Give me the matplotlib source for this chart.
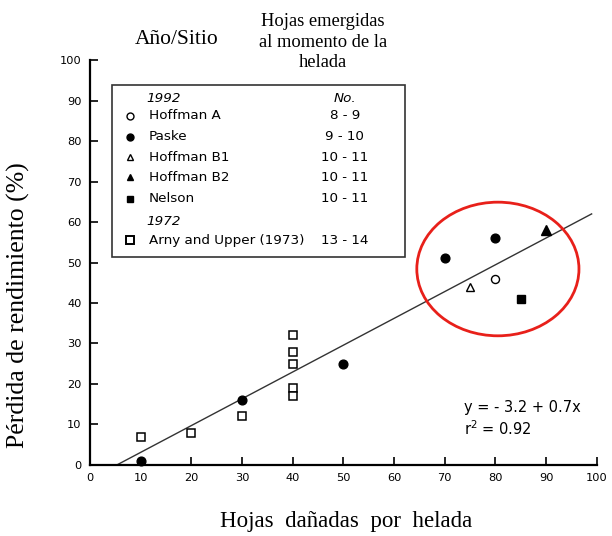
import matplotlib.pyplot as plt
from matplotlib.patches import Ellipse, Rectangle

# data
arny_x = [10, 20, 30, 40, 40, 40, 40, 40]
arny_y = [7, 8, 12, 32, 28, 25, 19, 17]
paske_x = [10, 30, 50, 70, 80]
paske_y = [1, 16, 25, 51, 56]
hoffa_x = [80]
hoffa_y = [46]
hoffb1_x = [75]
hoffb1_y = [44]
hoffb2_x = [90]
hoffb2_y = [58]
nelson_x = [85]
nelson_y = [41]

fit_x = [5.3, 99]
fit_y = [0, 62]

legend_rows = [
    ('o', 'white', 'Hoffman A', '8 - 9'),
    ('o', 'black', 'Paske', '9 - 10'),
    ('^', 'white', 'Hoffman B1', '10 - 11'),
    ('^', 'black', 'Hoffman B2', '10 - 11'),
    ('s', 'black', 'Nelson', '10 - 11'),
]
arny_row = ('s', 'white', 'Arny and Upper (1973)', '13 - 14')

ticks = list(range(0, 101, 10))

SANS = 'DejaVu Sans'
SERIF = 'Liberation Serif'

fig = plt.figure(figsize=(6.12, 5.36), dpi=100)
ax = fig.add_axes([0.147, 0.1325, 0.828, 0.7555])
ax.set_xlim(0, 100)
ax.set_ylim(0, 100)
for s in ['top', 'right']:
    ax.spines[s].set_visible(False)
ax.spines['left'].set_linewidth(1.6)
ax.spines['bottom'].set_linewidth(1.6)
ax.set_xticks(ticks)
ax.set_yticks(ticks)
ax.tick_params(direction='in', length=6, width=1.2, labelsize=8.2, pad=6)

mk = dict(linestyle='none', color='black', markeredgecolor='black', clip_on=False, zorder=3)
ax.plot(fit_x, fit_y, color='#333333', lw=1.0, zorder=2)
ax.plot(arny_x, arny_y, marker='s', ms=6.3, mfc='white', mew=1.1, **mk)
ax.plot(paske_x, paske_y, marker='o', ms=6.3, mfc='black', **mk)
ax.plot(hoffa_x, hoffa_y, marker='o', ms=5.8, mfc='white', mew=1.0, **mk)
ax.plot(hoffb1_x, hoffb1_y, marker='^', ms=6.3, mfc='white', mew=1.0, **mk)
ax.plot(hoffb2_x, hoffb2_y, marker='^', ms=6.5, mfc='black', **mk)
ax.plot(nelson_x, nelson_y, marker='s', ms=6.3, mfc='black', **mk)

ax.add_patch(Ellipse((80.5, 48.4), 32, 33, fill=False, edgecolor='#e8201a', lw=2, zorder=4))

ax.text(73.8, 14.1, 'y = - 3.2 + 0.7x', fontsize=10.5, family=SANS, va='center', ha='left')
ax.text(73.8, 8.9, 'r$^2$ = 0.92', fontsize=10.5, family=SANS, va='center', ha='left')

# legend box drawn by hand
ax.add_patch(Rectangle((4.3, 51.4), 57.8, 42.4, fill=False, edgecolor='#333333', lw=1.2, zorder=3))
ax.text(11.2, 90.5, '1992', style='italic', fontsize=9.7, family=SANS, va='center')
ax.text(50.3, 90.5, 'No.', style='italic', fontsize=9.7, family=SANS, va='center', ha='center')
row_y = [86.2, 81.1, 76.0, 71.0, 65.8]
for (m, fc, name, num), yy in zip(legend_rows, row_y):
    ax.plot([7.9], [yy], marker=m, ms=5, mfc=fc, **mk)
    ax.text(11.6, yy, name, fontsize=9.7, family=SANS, va='center')
    ax.text(50.3, yy, num, fontsize=9.7, family=SANS, va='center', ha='center')
ax.text(11.2, 60.2, '1972', style='italic', fontsize=9.7, family=SANS, va='center')
m, fc, name, num = arny_row
ax.plot([7.9], [55.5], marker=m, ms=6, mfc=fc, mew=1.4, **mk)
ax.text(11.6, 55.5, name, fontsize=9.7, family=SANS, va='center')
ax.text(50.3, 55.5, num, fontsize=9.7, family=SANS, va='center', ha='center')

# headers and axis titles
fig.text(177 / 612, 1 - 40 / 536, 'Año/Sitio', family=SERIF, fontsize=15.5, ha='center', va='center')
fig.text(323 / 612, 1 - 42 / 536, 'Hojas emergidas\nal momento de la\nhelada', family=SERIF,
         fontsize=13.3, ha='center', va='center', linespacing=1.25)
fig.text(346 / 612, 1 - 522 / 536, 'Hojas  dañadas  por  helada', family=SERIF, fontsize=16.5,
         ha='center', va='center')
fig.text(18 / 612, 1 - 305 / 536, 'Pérdida de rendimiento (%)', family=SERIF, fontsize=18.5,
         ha='center', va='center', rotation=90)

fig.savefig('out.png', dpi=100)
